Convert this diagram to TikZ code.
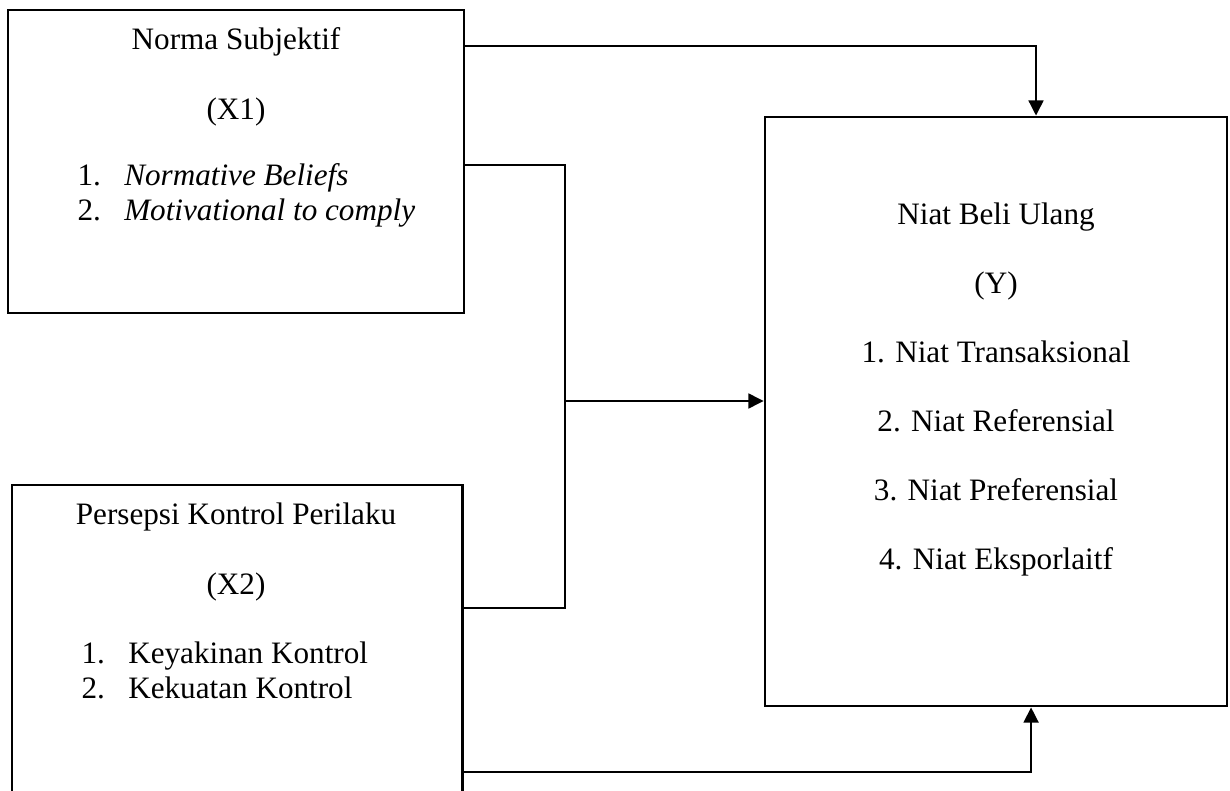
\documentclass[tikz,border=0pt]{standalone}
\usepackage{fontspec}
\setmainfont{Liberation Serif}
\usepackage{tikz}
\usetikzlibrary{arrows.meta,positioning}
\tikzstyle{box}=[draw, line width=1.1pt, inner sep=0pt]
\tikzstyle{conn}=[draw, line width=0.5pt]
\tikzstyle{flow}=[conn, -{Triangle[length=5.8pt,width=5.8pt]}]
\tikzstyle{title}=[align=center, inner sep=0pt, font=\fontsize{12}{27}\selectfont]
\tikzstyle{items}=[align=left, anchor=west, inner sep=0pt, font=\fontsize{12}{13.5}\selectfont]
\newcommand{\itm}[1]{\makebox[18pt][l]{#1}}

\begin{document}
\begin{tikzpicture}[x=0.385pt, y=-0.385pt]
\useasboundingbox (0,0) rectangle (1230,791);
\clip (0,0) rectangle (1230,791);
% boxes
\node [box, minimum width=175.6pt, minimum height=116.7pt] (ns) at (236,161.5) {};
\node [box, minimum width=173.3pt, minimum height=125.1pt] (pkp) at (237,647.5) {};
\node [box, minimum width=177.9pt, minimum height=226.8pt] (nbu) at (996,411.5) {};

% texts
\node [title] (nsT) at (236,77) {Norma Subjektif\\(X1)};
\node [items] (nsL) at (77,195.5) {\itm{1.}\textit{Normative Beliefs}\\\itm{2.}\textit{Motivational to comply}};
\node [title] (pkpT) at (236,552) {Persepsi Kontrol Perilaku\\(X2)};
\node [items] (pkpL) at (81,670.5) {\itm{1.}Keyakinan Kontrol\\\itm{2.}Kekuatan Kontrol};
\node [title, font=\fontsize{12}{26.6}\selectfont] (nbuT) at (996,389.5) {Niat Beli Ulang\\(Y)\\1. Niat Transaksional\\2. Niat Referensial\\3. Niat Preferensial\\4. Niat Eksporlaitf};

% connectors
\coordinate (jn) at (565,401);
\draw [flow] ([yshift=44.5pt]ns.east) -| ([xshift=15.4pt]nbu.north);
\draw [conn] ([yshift=-1.35pt]ns.east) -| (jn) |- ([yshift=15.2pt]pkp.east);
\draw [flow] (jn) -- (nbu.west |- jn);
\draw [flow] ([yshift=-47.9pt]pkp.east) -| ([xshift=13.5pt]nbu.south);
\end{tikzpicture}
\end{document}
